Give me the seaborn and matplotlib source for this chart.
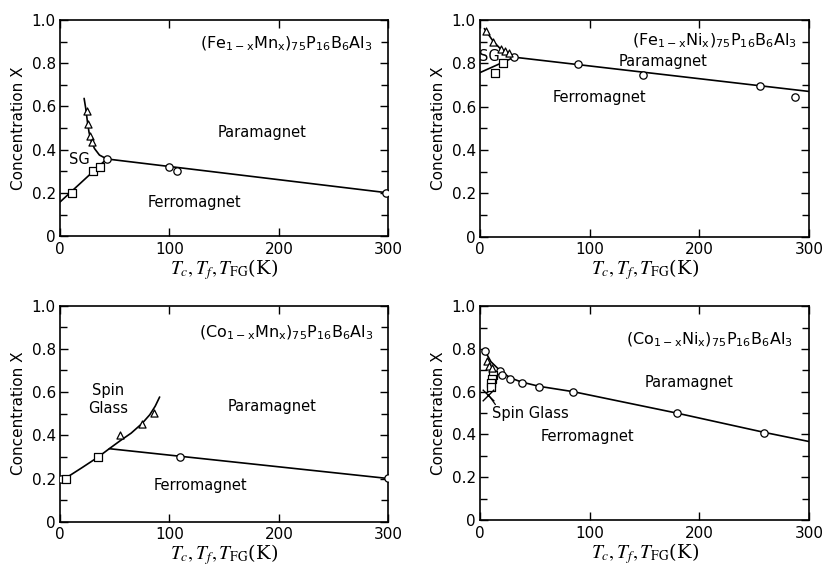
import matplotlib
matplotlib.use("Agg")
from matplotlib import pyplot as plt
import seaborn as sns

# ---- (Fe1-xMnx)75 P16 B6 Al3 ----
femn_circ_t = [42.7, 99.7, 107.3, 298.0]
femn_circ_x = [0.357, 0.32, 0.30, 0.20]
femn_sq_t = [11.3, 30.5, 36.6]
femn_sq_x = [0.20, 0.30, 0.32]
femn_tri_t = [24.4, 25.3, 27.4, 29.0]
femn_tri_x = [0.58, 0.52, 0.465, 0.435]
femn_sg_t = [22.0, 23.5, 25.0, 26.5, 28.5, 31.5, 36.0, 42.7]
femn_sg_x = [0.637, 0.59, 0.53, 0.48, 0.44, 0.405, 0.375, 0.357]
femn_fg_t = [0.0, 42.7]
femn_fg_x = [0.158, 0.357]
femn_pf_t = [42.7, 300.0]
femn_pf_x = [0.357, 0.20]

# ---- (Fe1-xNix)75 P16 B6 Al3 ----
feni_circ_t = [31.3, 89.1, 148.9, 255.3, 287.3]
feni_circ_x = [0.828, 0.797, 0.748, 0.697, 0.645]
feni_sq_t = [13.7, 21.3]
feni_sq_x = [0.754, 0.80]
feni_tri_t = [5.5, 12.2, 19.5, 23.0, 26.5]
feni_tri_x = [0.949, 0.90, 0.865, 0.858, 0.848]
feni_sg_t = [4.0, 12.2, 20.0, 26.0, 31.3]
feni_sg_x = [0.96, 0.90, 0.86, 0.845, 0.828]
feni_fg_t = [0.0, 31.3]
feni_fg_x = [0.757, 0.828]
feni_pf_t = [31.3, 300.0]
feni_pf_x = [0.828, 0.67]

# ---- (Co1-xMnx)75 P16 B6 Al3 ----
comn_circ_t = [1.0, 109.8, 300.0]
comn_circ_x = [0.20, 0.30, 0.202]
comn_sq_t = [5.5, 35.0]
comn_sq_x = [0.20, 0.30]
comn_tri_t = [54.9, 74.7, 85.4]
comn_tri_x = [0.403, 0.454, 0.503]
comn_sg_t = [0.0, 5.5, 20.0, 35.0, 45.0, 55.0, 65.0, 75.0, 82.0, 87.0, 91.0]
comn_sg_x = [0.19, 0.203, 0.25, 0.30, 0.338, 0.375, 0.41, 0.455, 0.495, 0.535, 0.577]
comn_pf_t = [45.0, 300.0]
comn_pf_x = [0.338, 0.20]

# ---- (Co1-xNix)75 P16 B6 Al3 ----
coni_circ_t = [4.6, 18.2, 20.4, 27.4, 38.0, 54.1, 85.1, 179.4, 259.0]
coni_circ_x = [0.79, 0.695, 0.68, 0.66, 0.64, 0.62, 0.60, 0.50, 0.405]
coni_sq_t = [11.6, 11.0, 10.2, 9.6]
coni_sq_x = [0.68, 0.66, 0.64, 0.62]
coni_tri_t = [6.1, 8.5, 10.5]
coni_tri_x = [0.742, 0.722, 0.71]
coni_cross_t = [7.6]
coni_cross_x = [0.586]
coni_pf_t = [4.6, 10.0, 18.0, 27.4, 38.0, 54.1, 85.1, 179.4, 259.0, 300.0]
coni_pf_x = [0.79, 0.74, 0.70, 0.665, 0.645, 0.625, 0.60, 0.50, 0.41, 0.367]

x_ticks = [0, 100, 200, 300]
x_ticklabels = ["0", "100", "200", "300"]
y_ticks = [0, 0.2, 0.4, 0.6, 0.8, 1.0]
y_ticklabels = ["0", "0.2", "0.4", "0.6", "0.8", "1.0"]
y_minor = [0.1, 0.3, 0.5, 0.7, 0.9]

sns.set_theme(style="ticks")
plt.rcParams["font.family"] = ["DejaVu Sans"]
plt.rcParams["mathtext.fontset"] = "dejavusans"
plt.rcParams["text.color"] = "black"
plt.rcParams["axes.labelcolor"] = "black"

fig = plt.figure(figsize=(8.27, 5.69), dpi=100)
positions = [
    [0.0726, 0.585, 0.397, 0.38],
    [0.5804, 0.584, 0.398, 0.381],
    [0.0726, 0.083, 0.397, 0.38],
    [0.5804, 0.086, 0.398, 0.376],
]
axes = [fig.add_axes(p) for p in positions]

open_kw = dict(facecolor="white", edgecolor="black", linewidth=0.9, zorder=3,
               legend=False)
line_kw = dict(color="black", linewidth=1.2, sort=False, estimator=None,
               legend=False, zorder=2)


def draw_set(ax, circ, sq, tri, lines):
    for t, x in lines:
        sns.lineplot(x=t, y=x, ax=ax, **line_kw)
    if circ:
        sns.scatterplot(x=circ[0], y=circ[1], marker="o", s=28, ax=ax, **open_kw)
    if sq:
        sns.scatterplot(x=sq[0], y=sq[1], marker="s", s=26, ax=ax, **open_kw)
    if tri:
        sns.scatterplot(x=tri[0], y=tri[1], marker="^", s=26, ax=ax, **open_kw)


draw_set(axes[0], (femn_circ_t, femn_circ_x), (femn_sq_t, femn_sq_x),
         (femn_tri_t, femn_tri_x),
         [(femn_sg_t, femn_sg_x), (femn_fg_t, femn_fg_x), (femn_pf_t, femn_pf_x)])
draw_set(axes[1], (feni_circ_t, feni_circ_x), (feni_sq_t, feni_sq_x),
         (feni_tri_t, feni_tri_x),
         [(feni_sg_t, feni_sg_x), (feni_fg_t, feni_fg_x), (feni_pf_t, feni_pf_x)])
draw_set(axes[2], (comn_circ_t, comn_circ_x), (comn_sq_t, comn_sq_x),
         (comn_tri_t, comn_tri_x),
         [(comn_sg_t, comn_sg_x), (comn_pf_t, comn_pf_x)])
draw_set(axes[3], (coni_circ_t, coni_circ_x), (coni_sq_t, coni_sq_x),
         (coni_tri_t, coni_tri_x), [(coni_pf_t, coni_pf_x)])
sns.scatterplot(x=coni_cross_t, y=coni_cross_x, marker="x", s=70, color="black",
                linewidth=1.0, ax=axes[3], legend=False, zorder=3)
axes[3].plot([7.6, 14.0], [0.586, 0.54], color="black", linewidth=0.9)

formulas = [
    r"(Fe$_{\rm 1-x}$Mn$_{\rm x}$)$_{75}$P$_{16}$B$_6$Al$_3$",
    r"(Fe$_{\rm 1-x}$Ni$_{\rm x}$)$_{75}$P$_{16}$B$_6$Al$_3$",
    r"(Co$_{\rm 1-x}$Mn$_{\rm x}$)$_{75}$P$_{16}$B$_6$Al$_3$",
    r"(Co$_{\rm 1-x}$Ni$_{\rm x}$)$_{75}$P$_{16}$B$_6$Al$_3$",
]
formula_pos = [(286, 0.89), (289, 0.905), (286, 0.875), (285, 0.844)]

labels = [
    [("Paramagnet", 185, 0.48), ("SG", 18, 0.356), ("Ferromagnet", 123, 0.157)],
    [("Paramagnet", 167, 0.81), ("SG", 9, 0.83), ("Ferromagnet", 109, 0.64)],
    [("Paramagnet", 194, 0.532), ("Spin\nGlass", 44, 0.565),
     ("Ferromagnet", 128, 0.167)],
    [("Paramagnet", 191, 0.642), ("Spin Glass", 46, 0.50),
     ("Ferromagnet", 98, 0.39)],
]

for ax, f, fp, labs in zip(axes, formulas, formula_pos, labels):
    ax.set_xlim(0, 300)
    ax.set_ylim(0, 1.0)
    ax.set_xticks(x_ticks)
    ax.set_xticklabels(x_ticklabels)
    ax.set_yticks(y_ticks)
    ax.set_yticklabels(y_ticklabels)
    ax.set_yticks(y_minor, minor=True)
    ax.tick_params(which="both", direction="in", top=True, right=True,
                   labelsize=11, width=1.0, color="black", labelcolor="black")
    ax.tick_params(which="major", length=6)
    ax.tick_params(which="minor", length=5)
    ax.tick_params(axis="y", pad=3)
    ax.tick_params(axis="x", pad=4)
    for sp in ax.spines.values():
        sp.set_linewidth(1.2)
        sp.set_color("black")
    ax.set_ylabel("Concentration X", fontsize=11, labelpad=4, color="black")
    ax.set_xlabel(r"$T_c,T_f,T_{\rm FG}$(K)", fontsize=14, fontfamily="serif",
                  math_fontfamily="stix", labelpad=0, color="black")
    ax.text(fp[0], fp[1], f, fontsize=11.5, ha="right", va="center",
            color="black")
    for txt, tx, ty in labs:
        ax.text(tx, ty, txt, fontsize=10.5, ha="center", va="center",
                linespacing=1.3, color="black")

fig.savefig("out.png", dpi=100)
